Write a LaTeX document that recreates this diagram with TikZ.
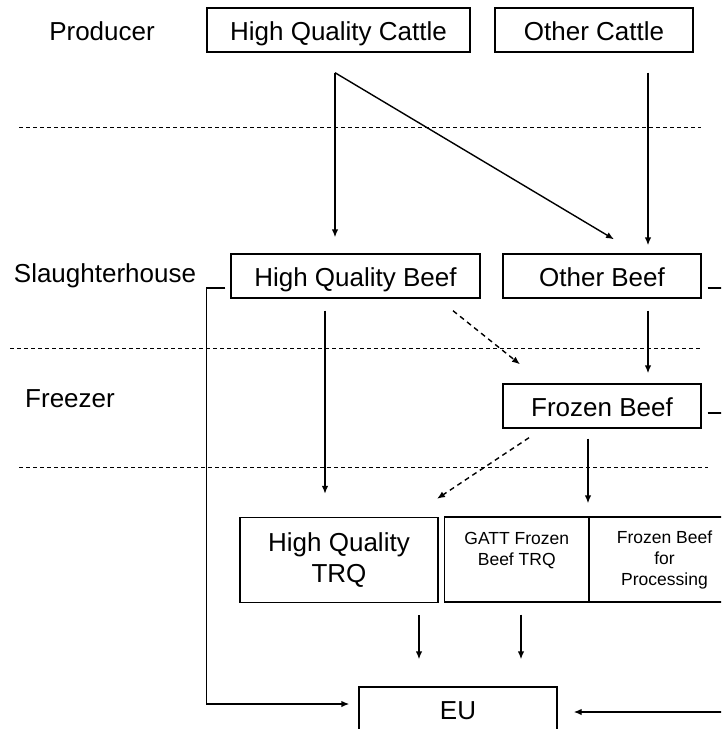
\documentclass[tikz,border=0pt]{standalone}
\usepackage{fontspec}
\setmainfont{Liberation Sans}
\usetikzlibrary{arrows.meta}

\begin{document}
\begin{tikzpicture}[
  x=1pt, y=-1pt,
  box/.style={draw, line width=1.4pt, inner sep=0pt, minimum height=44pt, align=center, font=\fontsize{26}{31}\selectfont},
  line/.style={box, text height=20pt, text depth=0pt},
  tag/.style={inner sep=0pt, text height=20pt, text depth=0pt, font=\fontsize{26}{31}\selectfont},
  quota/.style={box, minimum height=85pt, font=\fontsize{17.5}{21}\selectfont},
  arr/.style={-{Latex[length=8pt,width=6.5pt]}, line width=1.4pt},
  darr/.style={arr, dash pattern=on 5pt off 4pt},
  sep/.style={line width=1pt, dash pattern=on 4pt off 3pt}
]
\clip (0,0) rectangle (721,729);
% stage labels
\node[tag] (producer) at (102,30) {Producer};
\node[tag] (slaughter) at (105,272) {Slaughterhouse};
\node[tag] (freezer) at (70,397) {Freezer};
% boxes
\node[line,minimum width=263pt] (hqcattle) at (338.5,30) {High Quality Cattle};
\node[line,minimum width=198pt] (ocattle) at (594,30) {Other Cattle};
\node[line,minimum width=249pt] (hqbeef) at (355.5,276) {High Quality Beef};
\node[line,minimum width=198pt] (obeef) at (602,276) {Other Beef};
\node[line,minimum width=198pt] (fbeef) at (602,406) {Frozen Beef};
\node[box,minimum width=198pt,minimum height=85pt] (hqtrq) at (339,560) {High Quality\\TRQ};
\node[quota,minimum width=144.5pt] (gatt) at (516.75,559.5) {GATT Frozen\\Beef TRQ\\\mbox{}};
\node[quota,minimum width=151pt] (fbproc) at (664.5,559.5) {Frozen Beef\\for\\Processing};
\node[line,minimum width=198pt] (eu) at (458,709) {EU};
% stage separators
\draw[sep] (19,127) -- (701,127);
\draw[sep] (10,348) -- (701,348);
\draw[sep] (19,467) -- (708,467);
% flows
\coordinate (fork) at ([xshift=-3.5pt,yshift=-20pt]hqcattle.south);
\draw[arr] (fork) -- ([xshift=-20.5pt,yshift=16pt]hqbeef.north);
\draw[arr] (fork) -- ([xshift=12pt,yshift=14pt]obeef.north);
\draw[arr] ([xshift=54pt,yshift=-20pt]ocattle.south) -- ([xshift=46pt,yshift=8pt]obeef.north);
\draw[arr] ([xshift=-30.5pt,yshift=-12pt]hqbeef.south) -- ([xshift=-14pt,yshift=23pt]hqtrq.north);
\draw[darr] ([xshift=97.5pt,yshift=-12pt]hqbeef.south) -- ([xshift=-82pt,yshift=19pt]fbeef.north);
\draw[arr] ([xshift=46pt,yshift=-12pt]obeef.south) -- ([xshift=46pt,yshift=10pt]fbeef.north);
\draw[darr] ([xshift=-73pt,yshift=-9pt]fbeef.south) -- ([xshift=98pt,yshift=18pt]hqtrq.north);
\draw[arr] ([xshift=-14pt,yshift=-10pt]fbeef.south) -- ([xshift=71.25pt,yshift=13pt]gatt.north);
\draw[arr] ([xshift=80pt,yshift=-12pt]hqtrq.south) -- ([xshift=-39pt,yshift=27pt]eu.north);
\draw[arr] ([xshift=4.25pt,yshift=-12pt]gatt.south) -- ([xshift=63pt,yshift=27pt]eu.north);
\draw[arr] ([xshift=-5pt,yshift=-12pt]hqbeef.west) -- ++(-19,0) |- ([xshift=-9pt,yshift=5pt]eu.west);
% links leaving the page on the right
\coordinate (rimeu) at (730,712);
\draw[arr] (rimeu) -- ([xshift=16pt,yshift=-3pt]eu.east);
\draw[line width=1.4pt] ([xshift=6pt,yshift=-12pt]obeef.east) -- ++(24,0);
\draw[line width=1.4pt] ([xshift=6pt,yshift=-7pt]fbeef.east) -- ++(24,0);
\end{tikzpicture}
\end{document}
